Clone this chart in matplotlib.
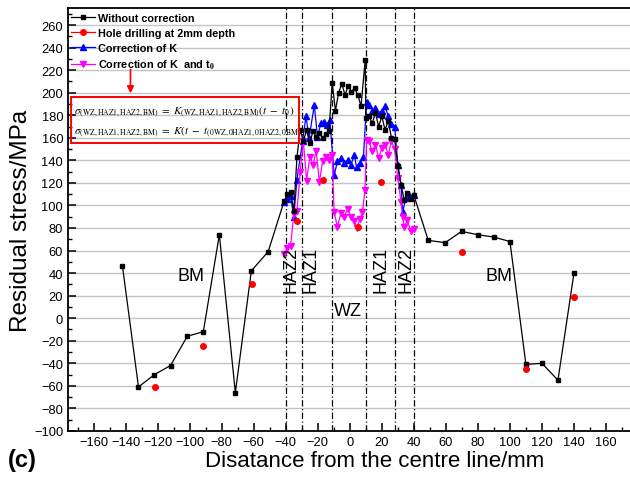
import matplotlib
matplotlib.use('Agg')
import matplotlib.pyplot as plt
from matplotlib.lines import Line2D
from matplotlib.patches import Rectangle
from matplotlib.ticker import MultipleLocator

plt.rcParams['font.family'] = ['Liberation Sans', 'DejaVu Sans']
plt.rcParams['mathtext.fontset'] = 'stix'

# without correction (black squares)
x_raw = [-142, -132, -122, -112, -101.5, -91.5, -81.5, -71.5, -61.5, -51,
         -41, -39, -37, -35, -33, -31, -29, -27, -25, -23, -21, -19, -17, -15, -13,
         -11, -9, -7, -5, -3, -1, 1, 3, 5, 7, 9.6, 10, 12, 14, 16, 18, 20, 22, 24,
         26, 28, 30, 32, 34, 36, 38, 40,
         49, 59.6, 69.8, 80, 89.8, 100, 110, 120, 130, 140]
y_raw = [46, -61, -50, -42, -16, -12, 74, -66, 42, 59,
         104, 110, 112, 95, 143, 167, 157, 167, 155, 166, 161, 164, 160, 163, 166,
         209, 184, 200, 208, 198, 206, 201, 204, 198, 188, 229, 178, 179, 173, 182, 170, 179, 167, 175,
         160, 159, 135, 118, 105, 111, 106, 109,
         69, 67, 77, 74, 72, 68, -41, -40, -55, 40]

# hole drilling at 2mm depth (red dots)
x_hole = [-121.7, -91.4, -61.3, -32.7, -16.7, 5.4, 19.4, 69.8, 110, 140]
y_hole = [-61, -25, 30, 86, 123, 81, 121, 59, -45, 19]

# correction of K (blue triangles)
x_k = [-41, -39, -37, -35, -33, -29.5, -27.4, -25.4, -22.2, -20.2, -18, -16, -14.5, -12.5,
       -9.8, -7.7, -5.6, -3.5, -1.4, 0.7, 2.8, 4.2, 6.3, 8.5,
       10.5, 12, 14, 16, 18, 20, 22, 24, 26, 28, 30, 32, 33, 35, 37, 40]
y_k = [103, 106, 108, 90, 123, 157, 179, 160, 189, 161, 173, 174, 171, 176,
       127, 139, 142, 138, 140, 136, 145, 134, 138, 143,
       192, 189, 184, 186, 181, 184, 188, 179, 172, 170, 136, 118, 94, 107, 109, 109]

# correction of K and t0 (magenta down triangles)
x_kt = [-41, -39, -37, -35, -33, -31, -29, -27, -25, -23, -21, -19, -17, -15, -13, -11,
        -9.8, -7.7, -5.6, -3.5, -1.4, 0.7, 2.8, 4.2, 6.3, 7.9, 9.5,
        10.5, 12, 14, 16, 18, 20, 22, 24, 26, 28, 30, 32, 33, 34, 36, 38, 40]
y_kt = [57, 62, 64, 92, 95, 130, 157, 122, 143, 136, 148, 121, 139, 143, 140, 145,
        94, 81, 93, 90, 97, 90, 86, 80, 88, 94, 114,
        158, 157, 148, 154, 142, 151, 154, 145, 157, 150, 124, 103, 90, 81, 87, 77, 79]

zone_lines = [-40, -30, -11, 10, 28, 40]
zone_labels = [('HAZ2', -36.5, 44), ('HAZ1', -24, 44), ('HAZ1', 19.5, 44), ('HAZ2', 35, 44)]

fig = plt.figure(figsize=(6.3, 4.81), dpi=100)
ax = fig.add_axes([0.108, 0.102, 0.892, 0.879])

ax.set_xlim(-176, 175)
ax.set_ylim(-100, 275)
ax.yaxis.grid(True, color='#c4c4c4', lw=1.0)
ax.set_axisbelow(True)

for xv in zone_lines:
    ax.axvline(xv, color='black', ls=(0, (5, 2, 1, 2)), lw=0.9, zorder=1)

ax.plot(x_raw, y_raw, color='black', lw=0.9, marker='s', ms=3.5, zorder=4)
ax.plot(x_k, y_k, color='#0000ff', lw=0.9, marker='^', ms=4.5, zorder=3)
ax.plot(x_kt, y_kt, color='#ff00ff', lw=0.9, marker='v', ms=4.5, zorder=3)
ax.plot(x_hole, y_hole, ls='none', color='#ff0000', marker='o', ms=4, zorder=5)

for txt, xv, yv in zone_labels:
    ax.text(xv, yv, txt, rotation=90, ha='center', va='center', fontsize=13)
ax.text(-1, 7, 'WZ', ha='center', va='center', fontsize=13)
ax.text(-99, 38, 'BM', ha='center', va='center', fontsize=13)
ax.text(93, 38, 'BM', ha='center', va='center', fontsize=13)

# equation box and arrow
ax.add_patch(Rectangle((-174, 155), 142.5, 41, fill=False, ec='#ff0000', lw=1.4, zorder=6))
ax.annotate('', xy=(-137, 197), xytext=(-137, 223),
            arrowprops=dict(arrowstyle='-|>', color='#ff0000', lw=1.2, mutation_scale=10))
ax.text(-172, 183, r'$\sigma_{(\mathrm{WZ,HAZ1,HAZ2,BM})}\ =\ K_{(\mathrm{WZ,HAZ1,HAZ2,BM})}(t\ -\ t_0)$',
        fontsize=7.9, va='center', ha='left')
ax.text(-172, 166, r'$\sigma_{(\mathrm{WZ,HAZ1,HAZ2,BM})}\ =\ K(t\ -\ t_{(\mathrm{0WZ,0HAZ1,0HAZ2,0BM})})$',
        fontsize=7.9, va='center', ha='left')

handles = [
    Line2D([], [], color='black', lw=0.9, marker='s', ms=3.5),
    Line2D([], [], color='#ff0000', lw=0.9, marker='o', ms=4),
    Line2D([], [], color='#0000ff', lw=0.9, marker='^', ms=4.5),
    Line2D([], [], color='#ff00ff', lw=0.9, marker='v', ms=4.5),
]
labels = ['Without correction', 'Hole drilling at 2mm depth', 'Correction of K',
          r'Correction of K  and t$_\mathbf{0}$']
leg = ax.legend(handles, labels, loc='upper left', bbox_to_anchor=(-0.012, 1.012),
                frameon=False, prop={'weight': 'bold', 'size': 7.8},
                handlelength=2.2, handletextpad=0.3, labelspacing=0.45)

ax.set_xticks(range(-160, 161, 20))
ax.set_yticks(range(-100, 261, 20))
ax.xaxis.set_minor_locator(MultipleLocator(10))
ax.yaxis.set_minor_locator(MultipleLocator(10))
ax.tick_params(which='both', direction='in', top=False, right=False, labelsize=9.3)
ax.tick_params(which='major', length=6, width=1.1)
ax.tick_params(which='minor', length=3, width=1.0)
for s in ['left', 'bottom', 'top']:
    ax.spines[s].set_linewidth(1.3)
ax.spines['right'].set_visible(False)

ax.set_ylabel('Residual stress/MPa', fontsize=17.5, va='center')
ax.yaxis.set_label_coords(-0.084, 0.5)
ax.set_xlabel('Disatance from the centre line/mm', fontsize=16, va='center')
ax.xaxis.set_label_coords(0.545, -0.069)
fig.text(0.012, 0.042, '(c)', fontsize=17, fontweight='bold', ha='left', va='center')

fig.savefig('out.png', dpi=100)
